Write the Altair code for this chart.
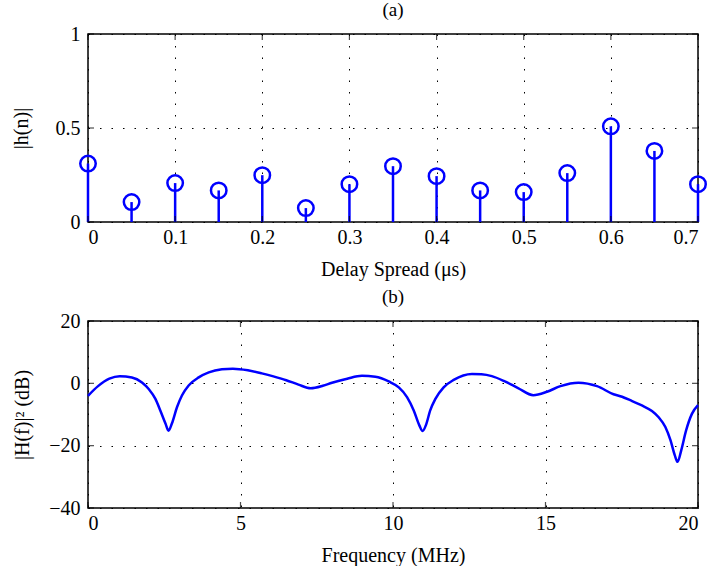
import altair as alt
import pandas as pd

# ---- data ----
delay_us = [0.0, 0.05, 0.1, 0.15, 0.2, 0.25, 0.3, 0.35, 0.4, 0.45, 0.5, 0.55, 0.6, 0.65, 0.7]
h_mag = [0.311, 0.106, 0.207, 0.168, 0.249, 0.074, 0.201, 0.297, 0.244, 0.168, 0.159, 0.260, 0.509, 0.378, 0.201]

freq_mhz = [0.0, 0.33, 0.7, 1.04, 1.44, 1.77, 1.99, 2.21, 2.37, 2.54, 2.64, 2.75, 2.92, 3.08,
            3.30, 3.63, 3.96, 4.39, 4.75, 5.24, 5.7, 6.05, 6.5, 6.9, 7.3, 7.7, 8.0, 8.5, 8.98,
            9.42, 9.86, 10.19, 10.46, 10.68, 10.86, 10.97, 11.08, 11.22, 11.39, 11.66, 11.99,
            12.59, 12.9, 13.24, 13.65, 14.1, 14.6, 15.05, 15.49, 16.08, 16.69, 17.23, 17.51,
            17.84, 18.16, 18.49, 18.71, 18.93, 19.1, 19.24, 19.33, 19.45, 19.61, 19.8, 20.0]
power_db = [-4.0, -0.9, 1.5, 2.3, 1.9, 0.3, -1.8, -5.0, -8.7, -12.9, -15.2, -12.9, -7.6, -3.9,
            -0.7, 1.9, 3.5, 4.5, 4.7, 4.2, 3.2, 2.3, 1.0, -0.4, -1.6, -0.8, 0.2, 1.5, 2.4,
            2.1, 0.6, -1.3, -4.4, -8.7, -13.4, -15.3, -13.4, -8.7, -5.0, -1.3, 1.1,
            3.0, 2.9, 2.3, 0.7, -1.5, -3.8, -2.7, -0.9, 0.2, -0.9, -3.5, -4.3,
            -5.7, -7.1, -8.9, -10.9, -14.0, -18.3, -23.1, -25.2, -21.5, -15.1, -9.8, -7.0]

x_ticks_a = [0.0, 0.1, 0.2, 0.3, 0.4, 0.5, 0.6, 0.7]
y_ticks_a = [0.0, 0.5, 1.0]
x_ticks_b = [0, 5, 10, 15, 20]
y_ticks_b = [-40, -20, 0, 20]

BLUE = "#0000ff"
FONT = "Liberation Serif"
W, H = 610, 188
TICK = 6

stem_df = pd.DataFrame({"delay": delay_us, "h": h_mag})
resp_df = pd.DataFrame({"f": freq_mhz, "p": power_db})


def inner_ticks(xvals, yvals, xs, ys, xax, yax, h):
    xdf = pd.DataFrame({"tx": xvals})
    ydf = pd.DataFrame({"ty": yvals})
    bx = alt.Chart(xdf).mark_tick(color="black", thickness=1.2, size=TICK)
    by = alt.Chart(ydf).mark_tick(color="black", thickness=1.2, size=TICK)
    return [
        bx.encode(x=alt.X("tx:Q", scale=xs, axis=xax), y=alt.value(TICK / 2)),
        bx.encode(x=alt.X("tx:Q", scale=xs, axis=xax), y=alt.value(h - TICK / 2)),
        by.encode(y=alt.Y("ty:Q", scale=ys, axis=yax), x=alt.value(TICK / 2)),
        by.encode(y=alt.Y("ty:Q", scale=ys, axis=yax), x=alt.value(W - TICK / 2)),
    ]


# ---- panel (a) ----
xa_scale = alt.Scale(domain=[0, 0.7], nice=False, zero=False)
ya_scale = alt.Scale(domain=[0, 1], nice=False, zero=False)
xa_axis = alt.Axis(values=x_ticks_a, format="~r", title="Delay Spread (μs)",
                   labelPadding=5, titlePadding=12)
ya_axis = alt.Axis(values=y_ticks_a, format="~r", title="|h(n)|",
                   labelPadding=8, titlePadding=24)

stems = alt.Chart(stem_df).mark_rule(color=BLUE, strokeWidth=2.5).encode(
    x=alt.X("delay:Q", scale=xa_scale, axis=xa_axis),
    y=alt.Y("h:Q", scale=ya_scale, axis=ya_axis),
    y2=alt.datum(0),
)
heads = alt.Chart(stem_df).mark_point(
    shape="circle", filled=False, color=BLUE, size=240, strokeWidth=2.5, opacity=1
).encode(
    x=alt.X("delay:Q", scale=xa_scale, axis=xa_axis),
    y=alt.Y("h:Q", scale=ya_scale, axis=ya_axis),
)
panel_a = alt.layer(
    stems, heads, *inner_ticks(x_ticks_a, y_ticks_a, xa_scale, ya_scale, xa_axis, ya_axis, H)
).properties(
    width=W, height=H,
    title=alt.TitleParams("(a)", font=FONT, fontSize=19, fontWeight="normal",
                          color="black", offset=4),
)

# ---- panel (b) ----
HB = 187
xb_scale = alt.Scale(domain=[0, 20], nice=False, zero=False)
yb_scale = alt.Scale(domain=[-40, 20], nice=False, zero=False)
xb_axis = alt.Axis(values=x_ticks_b, format="~r", title="Frequency (MHz)",
                   labelPadding=5, titlePadding=12)
yb_axis = alt.Axis(values=y_ticks_b, format="~r", title="|H(f)|² (dB)",
                   labelPadding=8, titlePadding=16)

curve = alt.Chart(resp_df).mark_line(color=BLUE, strokeWidth=2.5, interpolate="monotone").encode(
    x=alt.X("f:Q", scale=xb_scale, axis=xb_axis),
    y=alt.Y("p:Q", scale=yb_scale, axis=yb_axis),
)
panel_b = alt.layer(
    curve, *inner_ticks(x_ticks_b, y_ticks_b, xb_scale, yb_scale, xb_axis, yb_axis, HB)
).properties(
    width=W, height=HB,
    title=alt.TitleParams("(b)", font=FONT, fontSize=19, fontWeight="normal",
                          color="black", offset=4),
)

chart = alt.vconcat(panel_a, panel_b, spacing=7).configure(
    padding={"left": 10, "top": 0, "right": 10, "bottom": 0},
    background="white",
).configure_view(
    stroke="black", strokeWidth=1.5,
).configure_axis(
    labelFont=FONT, labelFontSize=20, labelColor="black",
    titleFont=FONT, titleFontSize=20, titleFontWeight="normal", titleColor="black",
    domain=False, ticks=False,
    grid=True, gridColor="black", gridDash=[1.5, 10], gridWidth=1, gridOpacity=1,
)

chart.save("out.html", embed_options={"renderer": "svg", "actions": False})
